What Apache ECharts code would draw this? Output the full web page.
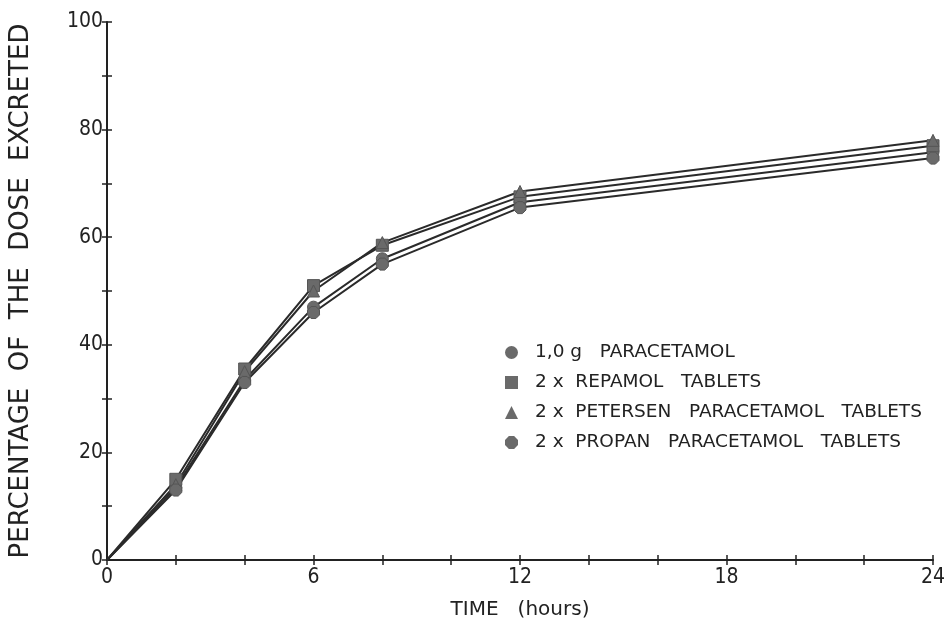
<!DOCTYPE html>
<html><head><meta charset="utf-8">
<script src="https://cdn.jsdelivr.net/npm/echarts@6/dist/echarts.min.js"></script>
<style>html,body{margin:0;padding:0;background:#fff}#c{width:951px;height:632px}</style>
</head><body><div id="c"></div>
<script>
const times = [0, 2, 4, 6, 8, 12, 24];
const seriesNames = ['1,0 g   PARACETAMOL', '2 x  REPAMOL   TABLETS', '2 x  PETERSEN   PARACETAMOL   TABLETS', '2 x  PROPAN   PARACETAMOL   TABLETS'];
const paracetamol = [0, 13.5, 33.5, 47, 56, 66.5, 75.8];
const repamol = [0, 15, 35.5, 51, 58.5, 67.5, 77];
const petersen = [0, 14, 35, 50, 59, 68.5, 78];
const propan = [0, 13, 33, 46, 55, 65.5, 74.7];
const xTickLabels = [0, 6, 12, 18, 24];
const yTickLabels = [0, 20, 40, 60, 80, 100];

const symbols = ['circle', 'rect', 'triangle', 'path://M30,0 L70,0 L100,30 L100,70 L70,100 L30,100 L0,70 L0,30 Z'];
const dataSets = [paracetamol, repamol, petersen, propan];
const font = 'DejaVu Sans Condensed';
const ink = '#222';

const chart = echarts.init(document.getElementById('c'), null, {renderer: 'canvas'});
const series = dataSets.map((d, i) => ({
  name: seriesNames[i],
  type: 'line',
  data: times.map((t, j) => [t, d[j]]),
  symbol: symbols[i],
  symbolSize: (v, p) => p.dataIndex === 0 ? 0 : 12,
  showSymbol: true,
  lineStyle: {color: '#2a2a2a', width: 2},
  itemStyle: {color: '#6a6a6a', borderColor: '#555', borderWidth: 1},
  z: 3
}));

const yBase = {
  type: 'value', min: 0, max: 100, interval: 10,
  position: 'left', offset: 0,
  splitLine: {show: false}
};
const xBase = {
  type: 'value', min: 0, max: 24, interval: 2,
  position: 'bottom', offset: 0,
  splitLine: {show: false}
};

chart.setOption({
  animation: false,
  backgroundColor: '#fff',
  grid: {left: 104, right: 18, top: 22, bottom: 72},
  legend: {
    orient: 'vertical', left: 500, top: 338, itemGap: 11,
    itemWidth: 13, itemHeight: 13,
    data: seriesNames.map((n, i) => ({name: n, icon: symbols[i], itemStyle: {color: '#6a6a6a', borderWidth: 0}})),
    textStyle: {fontFamily: 'DejaVu Sans', fontSize: 18.5, color: ink, padding: [0, 0, 0, 12]}
  },
  xAxis: [
    Object.assign({}, xBase, {
      name: 'TIME   (hours)', nameLocation: 'middle', nameGap: 40,
      nameTextStyle: {fontFamily: 'DejaVu Sans', fontSize: 20, color: ink},
      axisLine: {lineStyle: {color: ink, width: 2}},
      axisTick: {show: true, length: 5, lineStyle: {color: ink, width: 1.5}},
      axisLabel: {fontFamily: font, fontSize: 21, color: ink, margin: 7,
        formatter: v => xTickLabels.includes(v) ? String(v) : ''}
    }),
    Object.assign({}, xBase, {
      axisLine: {show: false},
      axisTick: {show: true, inside: true, length: 5, lineStyle: {color: ink, width: 1.5}},
      axisLabel: {show: false}
    })
  ],
  yAxis: [
    Object.assign({}, yBase, {
      name: 'PERCENTAGE  OF  THE  DOSE  EXCRETED', nameLocation: 'middle', nameGap: 73,
      nameTextStyle: {fontFamily: 'DejaVu Sans', fontSize: 26, color: ink},
      axisLine: {lineStyle: {color: ink, width: 2}},
      axisTick: {show: true, length: 5, lineStyle: {color: ink, width: 1.5}},
      axisLabel: {fontFamily: font, fontSize: 21, color: ink, margin: 4,
        formatter: v => yTickLabels.includes(v) ? String(v) : ''}
    }),
    Object.assign({}, yBase, {
      axisLine: {show: false},
      axisTick: {show: true, inside: true, length: 5, lineStyle: {color: ink, width: 1.5}},
      axisLabel: {show: false}
    })
  ],
  series: series
});
</script></body></html>
